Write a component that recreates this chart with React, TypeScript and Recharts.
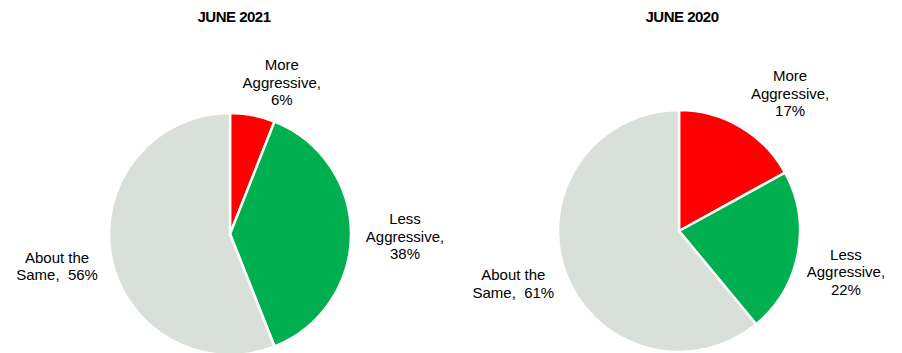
import React from "react";
import { PieChart, Pie, Cell } from "recharts";

const categories = ["More Aggressive", "Less Aggressive", "About the Same"];
const labelFirstLines = ["More", "Less", "About the"];
const labelSecondLines = ["Aggressive,", "Aggressive,", "Same,"];
const june2021 = [6, 38, 56];
const june2020 = [17, 22, 61];
const titles = ["JUNE 2021", "JUNE 2020"];

const COLORS = ["#FF0000", "#00B050", "#D9E0D9"];
const FONT = "'Liberation Sans', Arial, Helvetica, sans-serif";
const RADIAN = Math.PI / 180;
const LABEL_RADIUS = 175;
const LINE_H = 17.5;

// per-chart label nudges (styling only)
const NUDGES: number[][][] = [
  [[19, 20], [0, 2], [-1, -1]],
  [[22, 13], [-5, 8], [-1, -7]],
];

const build = (vals: number[]) =>
  categories.map((c, i) => ({ name: c, value: vals[i], idx: i }));

const makeLabel = (chartIdx: number) => (props: any) => {
  const { cx, cy, midAngle, payload } = props;
  const i = payload && payload.idx !== undefined ? payload.idx : props.index;
  const nud = NUDGES[chartIdx][i];
  const x = cx + LABEL_RADIUS * Math.cos(-midAngle * RADIAN) + nud[0];
  const y = cy + LABEL_RADIUS * Math.sin(-midAngle * RADIAN) + nud[1];
  const pct = `${props.value}%`;
  const lines =
    i === 2
      ? [labelFirstLines[i], `${labelSecondLines[i]}  ${pct}`]
      : [labelFirstLines[i], labelSecondLines[i], pct];
  const n = lines.length;
  return (
    <text
      x={x}
      y={y}
      textAnchor="middle"
      fill="#000"
      fontSize={15}
      fontFamily={FONT}
      style={{ whiteSpace: "pre" }}
    >
      {lines.map((l, k) => (
        <tspan
          key={k}
          x={x}
          y={y + (k - (n - 1) / 2) * LINE_H}
          dominantBaseline="central"
        >
          {l}
        </tspan>
      ))}
    </text>
  );
};

const titleStyle = (center: number): React.CSSProperties => ({
  position: "absolute",
  left: center - 100,
  top: 7,
  width: 200,
  textAlign: "center",
  fontFamily: FONT,
  fontWeight: "bold",
  fontSize: 15,
  letterSpacing: -0.5,
  lineHeight: "20px",
  color: "#000",
});

export default function App() {
  const d1 = build(june2021);
  const d2 = build(june2020);
  return (
    <div
      style={{
        position: "absolute",
        left: 0,
        top: 0,
        width: 902,
        height: 353,
        background: "#fff",
        overflow: "hidden",
      }}
    >
      <div style={titleStyle(234)}>{titles[0]}</div>
      <div style={titleStyle(682)}>{titles[1]}</div>
      <PieChart
        width={902}
        height={353}
        margin={{ top: 0, right: 0, bottom: 0, left: 0 }}
        style={{ position: "absolute", left: 0, top: 0 }}
      >
        <Pie
          data={d1}
          dataKey="value"
          nameKey="name"
          cx={230}
          cy={234}
          outerRadius={121}
          startAngle={90}
          endAngle={-270}
          stroke="#fff"
          strokeWidth={2.5}
          label={makeLabel(0)}
          labelLine={false}
          isAnimationActive={false}
        >
          {d1.map((e, i) => (
            <Cell key={i} fill={COLORS[i]} />
          ))}
        </Pie>
        <Pie
          data={d2}
          dataKey="value"
          nameKey="name"
          cx={679}
          cy={231}
          outerRadius={121}
          startAngle={90}
          endAngle={-270}
          stroke="#fff"
          strokeWidth={2.5}
          label={makeLabel(1)}
          labelLine={false}
          isAnimationActive={false}
        >
          {d2.map((e, i) => (
            <Cell key={i} fill={COLORS[i]} />
          ))}
        </Pie>
      </PieChart>
    </div>
  );
}
